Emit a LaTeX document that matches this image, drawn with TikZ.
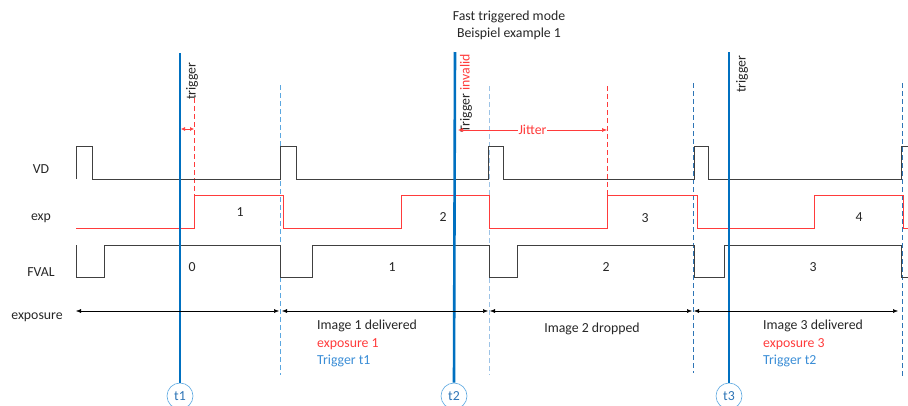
\documentclass[tikz,border=0pt]{standalone}
\usepackage{fontspec}
\setmainfont{Carlito}
\usepackage{xcolor}
\usepackage{tikz}
\usetikzlibrary{positioning,arrows.meta}
\definecolor{trigblue}{HTML}{0070C0}
\definecolor{paleblue}{HTML}{9DC3E6}
\definecolor{midblue}{HTML}{5BA7E0}
\definecolor{deepblue}{HTML}{2E75B6}
\definecolor{textblue}{HTML}{3A8DD6}
\definecolor{sigred}{HTML}{FF3B3B}
\definecolor{siggray}{HTML}{404040}
\definecolor{txtgray}{HTML}{262626}

\begin{document}
\begin{tikzpicture}[x=1pt,y=-1pt,font=\fontsize{13.8}{16}\selectfont,text=txtgray,
  trigline/.style={trigblue, line width=2.6pt},
  tcircle/.style={circle, draw=midblue, line width=0.6pt, minimum size=26pt, inner sep=0pt, text=deepblue},
  vsig/.style={siggray, line width=0.7pt},
  esig/.style={sigred, line width=0.7pt},
  frame/.style={dashed, dash pattern=on 5pt off 3pt, line width=0.7pt},
  span/.style={black, line width=0.5pt, {Latex[length=5pt,width=4pt]}-{Latex[length=5pt,width=4pt]}},
  infotxt/.style={anchor=north west, inner xsep=0pt, inner ysep=2.25pt, text height=9.5pt, text depth=3pt}]
\useasboundingbox (0,0) rectangle (908,405);

% title
\node (title) at (509,17) {Fast triggered mode};
\node[below=-2pt of title] (subtitle) {Beispiel example 1};

% frame borders
\draw[frame, midblue] (280,85) -- (280,375);
\draw[frame, paleblue] (489,86) -- (489,375);
\draw[frame, deepblue] (693,83) -- (693,373);
\draw[frame, deepblue] (902,83) -- (902,378);

% exposure start (delayed)
\draw[frame, sigred] (194,98) -- (194,195);
\draw[frame, sigred] (607,86) -- (607,195);

% signal names
\node (vd) at (41,169) {VD};
\node (exp) at (41,218) {exp};
\node (fval) at (41,272) {FVAL};
\node (exposure) at (37,317) {exposure};

% VD
\draw[vsig] (76,179) -- (76,146) -- (92,146) -- (92,179) -- (280,179) -- (280,146)
  -- (296,146) -- (296,179) -- (488,179) -- (488,146) -- (503,146) -- (503,179)
  -- (694,179) -- (694,146) -- (708,146) -- (708,179) -- (901,179) -- (901,146) -- (908,146);

% exp
\draw[esig] (76,228) -- (194,228) -- (194,195) -- (283,195) -- (283,228) -- (401,228)
  -- (401,195) -- (489,195) -- (489,228) -- (607,228) -- (607,195) -- (697,195)
  -- (697,228) -- (814,228) -- (814,195) -- (903,195) -- (903,228) -- (908,228);

% FVAL
\draw[vsig] (76,245) -- (76,277) -- (104,277) -- (104,245) -- (280,245) -- (280,277)
  -- (312,277) -- (312,245) -- (489,245) -- (489,277) -- (517,277) -- (517,245)
  -- (694,245) -- (694,277) -- (724,277) -- (724,245) -- (901,245) -- (901,277) -- (908,277);

% frame numbers
\node (e1) at (240,212) {1};
\node (e2) at (443,217) {2};
\node (e3) at (645,218) {3};
\node (e4) at (859,217) {4};
\node (f0) at (192,267) {0};
\node (f1) at (392,267) {1};
\node (f2) at (606,267) {2};
\node (f3) at (813,267) {3};

% triggers
\node[tcircle] (t1) at (180,396) {t1};
\node[tcircle] (t2) at (454,396) {t2};
\node[tcircle] (t3) at (729,396) {t3};
\coordinate (top1) at (180,53);
\coordinate (top2) at (455,52);
\coordinate (top3) at (729,52);
\draw[trigline] (top1) -- (t1.north);
\draw[trigline] (top2) -- (t2.north);
\draw[trigline] (top3) -- (t3.north);
\node[rotate=90] (trig1) at (192,81) {trigger};
\node[rotate=90] (trig2) at (466,93) {Trigger \textcolor{sigred}{invalid}};
\node[rotate=90] (trig3) at (742,74) {trigger};

% delay and jitter
\coordinate (d0) at (181,129);
\coordinate (d1) at (194,129);
\draw[sigred, line width=0.6pt, {Latex[length=4pt,width=4pt]}-{Latex[length=4pt,width=4pt]}] (d0) -- (d1);
\coordinate (j0) at (458,130);
\coordinate (j1) at (607,130);
\draw[sigred, line width=0.6pt, {Latex[length=5pt,width=4pt]}-{Latex[length=5pt,width=4pt]}] (j0) -- node[fill=white, inner sep=1pt, text=sigred] (jitter) {Jitter} (j1);

% exposure spans
\coordinate (s0) at (76,311);
\coordinate (s1) at (280,311);
\coordinate (s2) at (489,311);
\coordinate (s3) at (693,311);
\coordinate (s4) at (900,311);
\draw[span, shorten >=1pt] (s0) -- (s1);
\draw[span, shorten <=2pt, shorten >=1pt] (s1) -- (s2);
\draw[span, shorten <=1pt, shorten >=1pt] (s2) -- (s3);
\draw[span, shorten <=1pt, shorten >=2pt] (s3) -- (s4);

% results
\node[infotxt] (img1) at (317,318) {Image 1 delivered};
\node[infotxt, text=sigred] (exp1) at (img1.south west) {exposure 1};
\node[infotxt, text=textblue] (trg1) at (exp1.south west) {Trigger t1};
\node (img2) at (592,329) {Image 2 dropped};
\node[infotxt] (img3) at (763,318) {Image 3 delivered};
\node[infotxt, text=sigred] (exp3) at (img3.south west) {exposure 3};
\node[infotxt, text=textblue] (trg3) at (exp3.south west) {Trigger t2};
\end{tikzpicture}
\end{document}
